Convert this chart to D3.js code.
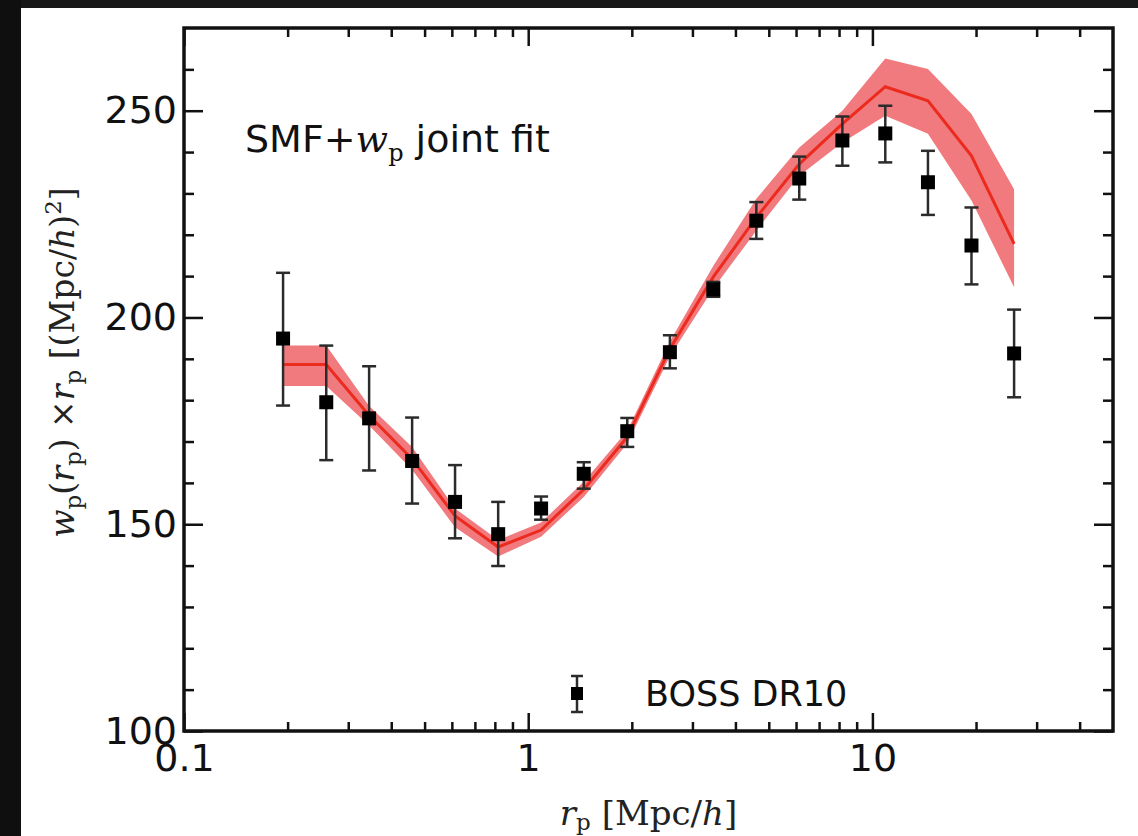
<!DOCTYPE html>
<html>
<head>
<meta charset="utf-8">
<script src="https://cdn.jsdelivr.net/npm/d3@7"></script>
<style>
  html, body { margin: 0; padding: 0; background: #ffffff; }
  svg { display: block; }
</style>
</head>
<body>
<svg id="chart" width="1138" height="836"></svg>
<script>
// ---------------- data ----------------
const rp      = [0.194, 0.259, 0.345, 0.46, 0.613, 0.818, 1.09, 1.45, 1.94, 2.58, 3.45, 4.6, 6.13, 8.18, 10.9, 14.5, 19.4, 25.8];
const wpObs   = [194.9, 179.5, 175.6, 165.3, 155.4, 147.6, 153.8, 162.2, 172.5, 191.6, 206.8, 223.4, 233.6, 242.8, 244.5, 232.7, 217.4, 191.3];
const errHi   = [210.8, 193.2, 188.2, 175.8, 164.3, 155.4, 156.7, 165.0, 175.7, 195.7, 208.6, 227.9, 238.9, 248.6, 251.2, 240.3, 226.6, 201.9];
const errLo   = [178.7, 165.5, 163.0, 155.0, 146.6, 139.9, 151.1, 158.6, 168.7, 187.7, 205.0, 219.0, 228.5, 236.7, 237.5, 224.8, 208.0, 180.7];
const model   = [188.6, 188.6, 176.3, 165.8, 152.0, 144.5, 148.6, 158.4, 171.1, 192.4, 209.8, 224.2, 237.1, 246.8, 255.8, 252.4, 239.1, 217.8];
const bandHi  = [193.2, 193.2, 178.6, 168.7, 153.8, 146.2, 150.4, 160.3, 172.6, 194.2, 212.5, 228.7, 241.1, 250.0, 262.6, 260.1, 249.2, 231.0];
const bandLo  = [183.4, 183.4, 173.9, 163.2, 149.3, 142.2, 147.0, 156.6, 169.5, 190.6, 207.0, 221.0, 234.3, 242.3, 248.8, 244.4, 228.3, 207.3];

const xMajor = [0.1, 1, 10];
const xMajorLabels = ["0.1", "1", "10"];
const xMinor = [0.2, 0.3, 0.4, 0.5, 0.6, 0.7, 0.8, 0.9, 2, 3, 4, 5, 6, 7, 8, 9, 20, 30, 40];
const yMajor = [100, 150, 200, 250];
const yMajorLabels = ["100", "150", "200", "250"];
const yMinor = [110, 120, 130, 140, 160, 170, 180, 190, 210, 220, 230, 240, 260];

const xDomain = [0.1, 50];
const yDomain = [100, 270];

// ---------------- layout ----------------
const svg = d3.select("#chart");
const W = 1138, H = 836;
const L = 184, R = 1113, T = 28, B = 731;

// dark frame strips (photo border)
svg.append("rect").attr("x", 0).attr("y", 0).attr("width", W).attr("height", 8).attr("fill", "#181818");
svg.append("rect").attr("x", 0).attr("y", 0).attr("width", 21).attr("height", H).attr("fill", "#0f0f0f");

const x = d3.scaleLog().domain(xDomain).range([L, R]);
const y = d3.scaleLinear().domain(yDomain).range([B, T]);

const idx = d3.range(rp.length);

// band
const area = d3.area()
  .x(i => x(rp[i]))
  .y0(i => y(bandLo[i]))
  .y1(i => y(bandHi[i]));
svg.append("path").datum(idx).attr("d", area)
  .attr("fill", "#f07a7e").attr("stroke", "none");

// model line
const line = d3.line().x(i => x(rp[i])).y(i => y(model[i]));
svg.append("path").datum(idx).attr("d", line)
  .attr("fill", "none").attr("stroke", "#ec2a1e").attr("stroke-width", 3);

// error bars
const eb = svg.append("g").attr("stroke", "#2b2b2b").attr("stroke-width", 2.5);
idx.forEach(i => {
  const cx = x(rp[i]);
  eb.append("line").attr("x1", cx).attr("x2", cx).attr("y1", y(errLo[i])).attr("y2", y(errHi[i]));
  eb.append("line").attr("x1", cx - 7).attr("x2", cx + 7).attr("y1", y(errLo[i])).attr("y2", y(errLo[i]));
  eb.append("line").attr("x1", cx - 7).attr("x2", cx + 7).attr("y1", y(errHi[i])).attr("y2", y(errHi[i]));
});

// markers
const ms = 14;
svg.append("g").selectAll("rect").data(idx).join("rect")
  .attr("x", i => x(rp[i]) - ms / 2)
  .attr("y", i => y(wpObs[i]) - ms / 2)
  .attr("width", ms).attr("height", ms)
  .attr("fill", "#000");

// ---------------- axes ----------------
const tickFont = "DejaVu Sans, sans-serif";
function styleAxis(g) {
  g.select(".domain").remove();
  g.selectAll(".tick line").attr("stroke", "#111").attr("stroke-width", 2.5);
  g.selectAll("text").attr("font-family", tickFont).attr("font-size", 38).attr("fill", "#111");
}

// bottom
svg.append("g").attr("transform", `translate(0,${B})`)
  .call(d3.axisBottom(x).tickValues(xMajor).tickSize(-18).tickPadding(13)
    .tickFormat((d, i) => xMajorLabels[i]))
  .call(styleAxis);
svg.append("g").attr("transform", `translate(0,${B})`)
  .call(d3.axisBottom(x).tickValues(xMinor).tickSize(-9).tickFormat(""))
  .call(styleAxis);
// top
svg.append("g").attr("transform", `translate(0,${T})`)
  .call(d3.axisTop(x).tickValues(xMajor).tickSize(-18).tickFormat(""))
  .call(styleAxis);
svg.append("g").attr("transform", `translate(0,${T})`)
  .call(d3.axisTop(x).tickValues(xMinor).tickSize(-9).tickFormat(""))
  .call(styleAxis);
// left
svg.append("g").attr("transform", `translate(${L},0)`)
  .call(d3.axisLeft(y).tickValues(yMajor).tickSize(-19).tickPadding(7)
    .tickFormat((d, i) => yMajorLabels[i]))
  .call(styleAxis);
svg.append("g").attr("transform", `translate(${L},0)`)
  .call(d3.axisLeft(y).tickValues(yMinor).tickSize(-10).tickFormat(""))
  .call(styleAxis);
// right
svg.append("g").attr("transform", `translate(${R},0)`)
  .call(d3.axisRight(y).tickValues(yMajor).tickSize(-19).tickFormat(""))
  .call(styleAxis);
svg.append("g").attr("transform", `translate(${R},0)`)
  .call(d3.axisRight(y).tickValues(yMinor).tickSize(-10).tickFormat(""))
  .call(styleAxis);

// frame
svg.append("rect").attr("x", L).attr("y", T).attr("width", R - L).attr("height", B - T)
  .attr("fill", "none").attr("stroke", "#111").attr("stroke-width", 3.5);

// ---------------- texts ----------------
const serif = "DejaVu Serif, Liberation Serif, serif";

// annotation
const ann = svg.append("text").attr("x", 245).attr("y", 152)
  .attr("font-family", tickFont).attr("font-size", 38).attr("fill", "#111");
ann.append("tspan").text("SMF+");
ann.append("tspan").attr("font-family", serif).attr("font-style", "italic").attr("font-size", 38).text("w");
ann.append("tspan").attr("font-family", serif).attr("font-size", 24).attr("dy", 9).text("p");
ann.append("tspan").attr("dy", -9).text(" joint fit");

// legend
const lgx = 577, lgy = 693;
const lg = svg.append("g").attr("stroke", "#2b2b2b").attr("stroke-width", 2.5);
lg.append("line").attr("x1", lgx).attr("x2", lgx).attr("y1", lgy - 17).attr("y2", lgy + 19);
lg.append("line").attr("x1", lgx - 6).attr("x2", lgx + 6).attr("y1", lgy - 17).attr("y2", lgy - 17);
lg.append("line").attr("x1", lgx - 6).attr("x2", lgx + 6).attr("y1", lgy + 19).attr("y2", lgy + 19);
svg.append("rect").attr("x", lgx - 6).attr("y", lgy - 6).attr("width", 12).attr("height", 13).attr("fill", "#000");
svg.append("text").attr("x", 645).attr("y", 706)
  .attr("font-family", tickFont).attr("font-size", 35).attr("fill", "#111").text("BOSS DR10");

// x label
const xl = svg.append("text").attr("x", (L + R) / 2).attr("y", 825).attr("text-anchor", "middle")
  .attr("font-family", serif).attr("font-size", 34).attr("fill", "#222");
xl.append("tspan").attr("font-style", "italic").text("r");
xl.append("tspan").attr("font-size", 23).attr("dy", 5).text("p");
xl.append("tspan").attr("dy", -5).text(" [Mpc/");
xl.append("tspan").attr("font-style", "italic").text("h");
xl.append("tspan").text("]");

// y label
const yl = svg.append("text")
  .attr("transform", `translate(74,${(T + B) / 2 - 17}) rotate(-90)`)
  .attr("text-anchor", "middle")
  .attr("font-family", serif).attr("font-size", 33).attr("fill", "#222");
yl.append("tspan").attr("font-style", "italic").text("w");
yl.append("tspan").attr("font-size", 23).attr("dy", 7).text("p");
yl.append("tspan").attr("dy", -7).text("(");
yl.append("tspan").attr("font-style", "italic").text("r");
yl.append("tspan").attr("font-size", 23).attr("dy", 7).text("p");
yl.append("tspan").attr("dy", -7).text(") ×");
yl.append("tspan").attr("font-style", "italic").text("r");
yl.append("tspan").attr("font-size", 23).attr("dy", 7).text("p");
yl.append("tspan").attr("dy", -7).text(" [(Mpc/");
yl.append("tspan").attr("font-style", "italic").text("h");
yl.append("tspan").text(")");
yl.append("tspan").attr("font-size", 23).attr("dy", -13).text("2");
yl.append("tspan").attr("dy", 13).text("]");
</script>
</body>
</html>
